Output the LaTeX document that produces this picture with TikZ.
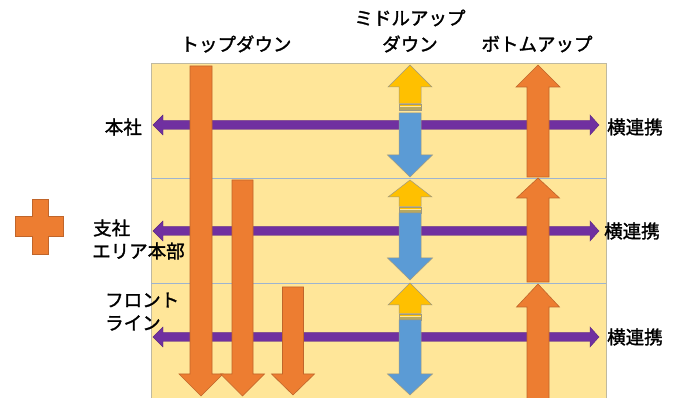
\documentclass[tikz,border=0pt]{standalone}
\usepackage{fontspec}
\newfontfamily\jp{Noto Sans CJK JP}[FakeBold=1.6]
\definecolor{panel}{HTML}{FFE699}
\definecolor{panelline}{HTML}{BFB9A0}
\definecolor{sepline}{HTML}{9DB4D0}
\definecolor{orangef}{HTML}{ED7D31}
\definecolor{oranged}{HTML}{C0652A}
\definecolor{purplef}{HTML}{7030A0}
\definecolor{bluef}{HTML}{5B9BD5}
\definecolor{yellowf}{HTML}{FFC000}
\definecolor{graybd}{HTML}{A09A80}
\definecolor{olive}{HTML}{B8A860}
\tikzset{
  orangearr/.style={fill=orangef,draw=oranged,line width=0.6pt},
  purplearr/.style={fill=purplef,draw=purplef!80!black,line width=0.4pt},
  bluearr/.style={fill=bluef,draw=graybd,line width=0.5pt},
  yellowarr/.style={fill=yellowf,draw=graybd,line width=0.5pt},
  lbl/.style={font=\jp\fontsize{18.5}{22}\selectfont,inner sep=0pt,align=left}
}
% down arrow: style, cx, shaft half, head half, top, head base, tip
\newcommand{\dArr}[7]{\filldraw[#1] (#2-#3,#5) -- (#2+#3,#5) -- (#2+#3,#6) -- (#2+#4,#6) -- (#2,#7) -- (#2-#4,#6) -- (#2-#3,#6) -- cycle;}
% up arrow: style, cx, shaft half, head half, tip, head base, bottom
\newcommand{\uArr}[7]{\filldraw[#1] (#2,#5) -- (#2+#4,#6) -- (#2+#3,#6) -- (#2+#3,#7) -- (#2-#3,#7) -- (#2-#3,#6) -- (#2-#4,#6) -- cycle;}
% horizontal double arrow at y
\newcommand{\hArr}[1]{\filldraw[purplearr] (153,#1) -- (163,#1-10) -- (163,#1-4.5) -- (590,#1-4.5) -- (590,#1-10) -- (599,#1) -- (590,#1+10) -- (590,#1+4.5) -- (163,#1+4.5) -- (163,#1+10) -- cycle;}
% middle striped up + down pair
\newcommand{\midPair}[6]{%
  \uArr{yellowarr}{410}{11}{22}{#1}{#2}{#3}
  \fill[yellowf] (399,#3+0.8) rectangle (421,#3+2.8);
  \fill[olive] (399,#3+3.3) rectangle (421,#3+6.3);
  \draw[graybd,line width=0.4pt] (399,#3+0.8) rectangle (421,#3+6.3);
  \dArr{bluearr}{410}{11}{22.5}{#4}{#5}{#6}
}
\begin{document}
\begin{tikzpicture}[x=1pt,y=-1pt]
\useasboundingbox (0,0) rectangle (673,398);
% panel
\filldraw[fill=panel,draw=panelline,line width=0.8pt] (151,63) rectangle (606,399);
\draw[sepline,line width=0.8pt] (151,178) -- (606,178);
\draw[sepline,line width=0.8pt] (151,283) -- (606,283);
% horizontal arrows
\hArr{125}
\hArr{231}
\hArr{337}
% top-down arrows
\dArr{orangearr}{201}{11}{22}{66}{374}{396}
\dArr{orangearr}{242.5}{10.5}{22}{180}{374}{396}
\dArr{orangearr}{293}{10.5}{21.5}{287}{374}{395}
% bottom-up arrows
\uArr{orangearr}{538}{11}{22}{65}{87}{177}
\uArr{orangearr}{538}{11}{21.5}{178}{198}{282}
\uArr{orangearr}{538}{11}{21.5}{284}{307}{399}
% middle up/down
\midPair{65}{87}{103.5}{113}{155}{177}
\midPair{180}{197}{206.5}{213}{258}{280}
\midPair{283}{305}{313.5}{320}{374}{395}
% plus sign
\filldraw[fill=orangef,draw=oranged,line width=1pt] (32,200) -- (48,200) -- (48,217) -- (63,217) -- (63,237) -- (48,237) -- (48,255) -- (32,255) -- (32,237) -- (15,237) -- (15,217) -- (32,217) -- cycle;
% labels
\node[lbl] (top) at (236,44) {トップダウン};
\node[lbl] (mid1) at (410,18) {ミドルアップ};
\node[lbl] (mid2) at (410,44) {ダウン};
\node[lbl] (bot) at (537,44) {ボトムアップ};
\node[lbl,anchor=east] (hq) at (142,127) {本社};
\node[lbl,anchor=west] (br1) at (93,228) {支社};
\node[lbl,anchor=west] (br2) at (92,251) {エリア本部};
\node[lbl,anchor=west] (fl1) at (105,300) {フロント};
\node[lbl,anchor=west] (fl2) at (105,323) {ライン};
\node[lbl,anchor=west] (y1) at (607,127) {横連携};
\node[lbl,anchor=west] (y2) at (604,231) {横連携};
\node[lbl,anchor=west] (y3) at (607,337) {横連携};
\end{tikzpicture}
\end{document}
